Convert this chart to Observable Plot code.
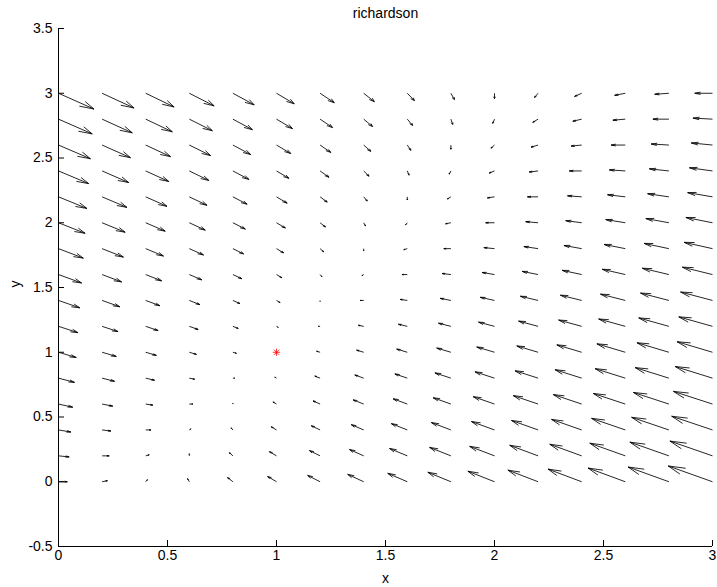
<!DOCTYPE html>
<html><head><meta charset="utf-8">
<script src="https://cdn.jsdelivr.net/npm/d3@7"></script>
<script src="https://cdn.jsdelivr.net/npm/@observablehq/plot@0.6"></script>
<style>html,body{margin:0;padding:0;background:#fff} svg{display:block}</style>
</head><body><div id="chart"></div>
<script>
// grid
const xs = [0,0.2,0.4,0.6,0.8,1,1.2,1.4,1.6,1.8,2,2.2,2.4,2.6,2.8,3];
const ys = [0,0.2,0.4,0.6,0.8,1,1.2,1.4,1.6,1.8,2,2.2,2.4,2.6,2.8,3];
// horizontal component, one row per y (ascending), one column per x
const U = [
 [1,0.6,0.2,-0.2,-0.6,-1,-1.4,-1.8,-2.2,-2.6,-3,-3.4,-3.8,-4.2,-4.6,-5],
 [1.2,0.8,0.4,0,-0.4,-0.8,-1.2,-1.6,-2,-2.4,-2.8,-3.2,-3.6,-4,-4.4,-4.8],
 [1.4,1,0.6,0.2,-0.2,-0.6,-1,-1.4,-1.8,-2.2,-2.6,-3,-3.4,-3.8,-4.2,-4.6],
 [1.6,1.2,0.8,0.4,0,-0.4,-0.8,-1.2,-1.6,-2,-2.4,-2.8,-3.2,-3.6,-4,-4.4],
 [1.8,1.4,1,0.6,0.2,-0.2,-0.6,-1,-1.4,-1.8,-2.2,-2.6,-3,-3.4,-3.8,-4.2],
 [2,1.6,1.2,0.8,0.4,0,-0.4,-0.8,-1.2,-1.6,-2,-2.4,-2.8,-3.2,-3.6,-4],
 [2.2,1.8,1.4,1,0.6,0.2,-0.2,-0.6,-1,-1.4,-1.8,-2.2,-2.6,-3,-3.4,-3.8],
 [2.4,2,1.6,1.2,0.8,0.4,0,-0.4,-0.8,-1.2,-1.6,-2,-2.4,-2.8,-3.2,-3.6],
 [2.6,2.2,1.8,1.4,1,0.6,0.2,-0.2,-0.6,-1,-1.4,-1.8,-2.2,-2.6,-3,-3.4],
 [2.8,2.4,2,1.6,1.2,0.8,0.4,0,-0.4,-0.8,-1.2,-1.6,-2,-2.4,-2.8,-3.2],
 [3,2.6,2.2,1.8,1.4,1,0.6,0.2,-0.2,-0.6,-1,-1.4,-1.8,-2.2,-2.6,-3],
 [3.2,2.8,2.4,2,1.6,1.2,0.8,0.4,0,-0.4,-0.8,-1.2,-1.6,-2,-2.4,-2.8],
 [3.4,3,2.6,2.2,1.8,1.4,1,0.6,0.2,-0.2,-0.6,-1,-1.4,-1.8,-2.2,-2.6],
 [3.6,3.2,2.8,2.4,2,1.6,1.2,0.8,0.4,0,-0.4,-0.8,-1.2,-1.6,-2,-2.4],
 [3.8,3.4,3,2.6,2.2,1.8,1.4,1,0.6,0.2,-0.2,-0.6,-1,-1.4,-1.8,-2.2],
 [4,3.6,3.2,2.8,2.4,2,1.6,1.2,0.8,0.4,0,-0.4,-0.8,-1.2,-1.6,-2]
];
// vertical component, same layout
const V = [
 [0,0.2,0.4,0.6,0.8,1,1.2,1.4,1.6,1.8,2,2.2,2.4,2.6,2.8,3],
 [-0.2,0,0.2,0.4,0.6,0.8,1,1.2,1.4,1.6,1.8,2,2.2,2.4,2.6,2.8],
 [-0.4,-0.2,0,0.2,0.4,0.6,0.8,1,1.2,1.4,1.6,1.8,2,2.2,2.4,2.6],
 [-0.6,-0.4,-0.2,0,0.2,0.4,0.6,0.8,1,1.2,1.4,1.6,1.8,2,2.2,2.4],
 [-0.8,-0.6,-0.4,-0.2,0,0.2,0.4,0.6,0.8,1,1.2,1.4,1.6,1.8,2,2.2],
 [-1,-0.8,-0.6,-0.4,-0.2,0,0.2,0.4,0.6,0.8,1,1.2,1.4,1.6,1.8,2],
 [-1.2,-1,-0.8,-0.6,-0.4,-0.2,0,0.2,0.4,0.6,0.8,1,1.2,1.4,1.6,1.8],
 [-1.4,-1.2,-1,-0.8,-0.6,-0.4,-0.2,0,0.2,0.4,0.6,0.8,1,1.2,1.4,1.6],
 [-1.6,-1.4,-1.2,-1,-0.8,-0.6,-0.4,-0.2,0,0.2,0.4,0.6,0.8,1,1.2,1.4],
 [-1.8,-1.6,-1.4,-1.2,-1,-0.8,-0.6,-0.4,-0.2,0,0.2,0.4,0.6,0.8,1,1.2],
 [-2,-1.8,-1.6,-1.4,-1.2,-1,-0.8,-0.6,-0.4,-0.2,0,0.2,0.4,0.6,0.8,1],
 [-2.2,-2,-1.8,-1.6,-1.4,-1.2,-1,-0.8,-0.6,-0.4,-0.2,0,0.2,0.4,0.6,0.8],
 [-2.4,-2.2,-2,-1.8,-1.6,-1.4,-1.2,-1,-0.8,-0.6,-0.4,-0.2,0,0.2,0.4,0.6],
 [-2.6,-2.4,-2.2,-2,-1.8,-1.6,-1.4,-1.2,-1,-0.8,-0.6,-0.4,-0.2,0,0.2,0.4],
 [-2.8,-2.6,-2.4,-2.2,-2,-1.8,-1.6,-1.4,-1.2,-1,-0.8,-0.6,-0.4,-0.2,0,0.2],
 [-3,-2.8,-2.6,-2.4,-2.2,-2,-1.8,-1.6,-1.4,-1.2,-1,-0.8,-0.6,-0.4,-0.2,0]
];
const fixedPoint = [{x: 1, y: 1}];
const xTicks = [0,0.5,1,1.5,2,2.5,3];
const yTicks = [-0.5,0,0.5,1,1.5,2,2.5,3,3.5];
const titleText = "richardson";
const xLabel = "x";
const yLabel = "y";

// quiver drawing (arrow scale and head proportions, as in MATLAB quiver)
const SCALE = 0.0407, ALPHA = 0.33, BETA = 0.33;
const shafts = [], barbs = [];
ys.forEach((y, j) => xs.forEach((x, i) => {
  const u = U[j][i] * SCALE, v = V[j][i] * SCALE;
  if (u === 0 && v === 0) return;
  const tx = x + u, ty = y + v;
  shafts.push({x1: x, y1: y, x2: tx, y2: ty});
  barbs.push({x1: tx - ALPHA * (u + BETA * v), y1: ty - ALPHA * (v - BETA * u), x2: tx, y2: ty});
  barbs.push({x1: tx - ALPHA * (u - BETA * v), y1: ty - ALPHA * (v + BETA * u), x2: tx, y2: ty});
}));

const font = "'Liberation Sans', Arial, Helvetica, sans-serif";
const fmt = d => String(d);

const chart = Plot.plot({
  width: 717, height: 587,
  marginLeft: 58, marginRight: 5, marginTop: 28, marginBottom: 41,
  x: {domain: [0, 3], label: null},
  y: {domain: [-0.5, 3.5], label: null},
  style: {fontFamily: font, fontSize: "14px", background: "#fff", color: "#000", overflow: "visible"},
  marks: [
    Plot.ruleX([0], {stroke: "#000", strokeWidth: 1}),
    Plot.ruleY([-0.5], {stroke: "#000", strokeWidth: 1}),
    Plot.axisX(xTicks, {anchor: "bottom", tickSize: -6, tickPadding: 10, tickFormat: fmt, label: null, fontSize: 14}),
    Plot.axisY(yTicks, {anchor: "left", tickSize: -6, tickPadding: 12, tickFormat: fmt, label: null, fontSize: 14}),
    Plot.link(shafts, {x1: "x1", y1: "y1", x2: "x2", y2: "y2", stroke: "#000", strokeWidth: 0.85}),
    Plot.link(barbs, {x1: "x1", y1: "y1", x2: "x2", y2: "y2", stroke: "#000", strokeWidth: 0.85}),
    Plot.dot(fixedPoint, {x: "x", y: "y", symbol: "plus", r: 2.5, stroke: "red", strokeWidth: 0.8}),
    Plot.dot(fixedPoint, {x: "x", y: "y", symbol: "times", r: 2.5, stroke: "red", strokeWidth: 0.8}),
    Plot.text([titleText], {frameAnchor: "top", dy: -15, lineAnchor: "middle", fontSize: 14}),
    Plot.text([xLabel], {frameAnchor: "bottom", dy: 32, lineAnchor: "middle", fontSize: 14}),
    Plot.text([yLabel], {frameAnchor: "left", dx: -43, rotate: -90, lineAnchor: "middle", fontSize: 14})
  ]
});
document.getElementById("chart").appendChild(chart);
</script>
</body></html>
